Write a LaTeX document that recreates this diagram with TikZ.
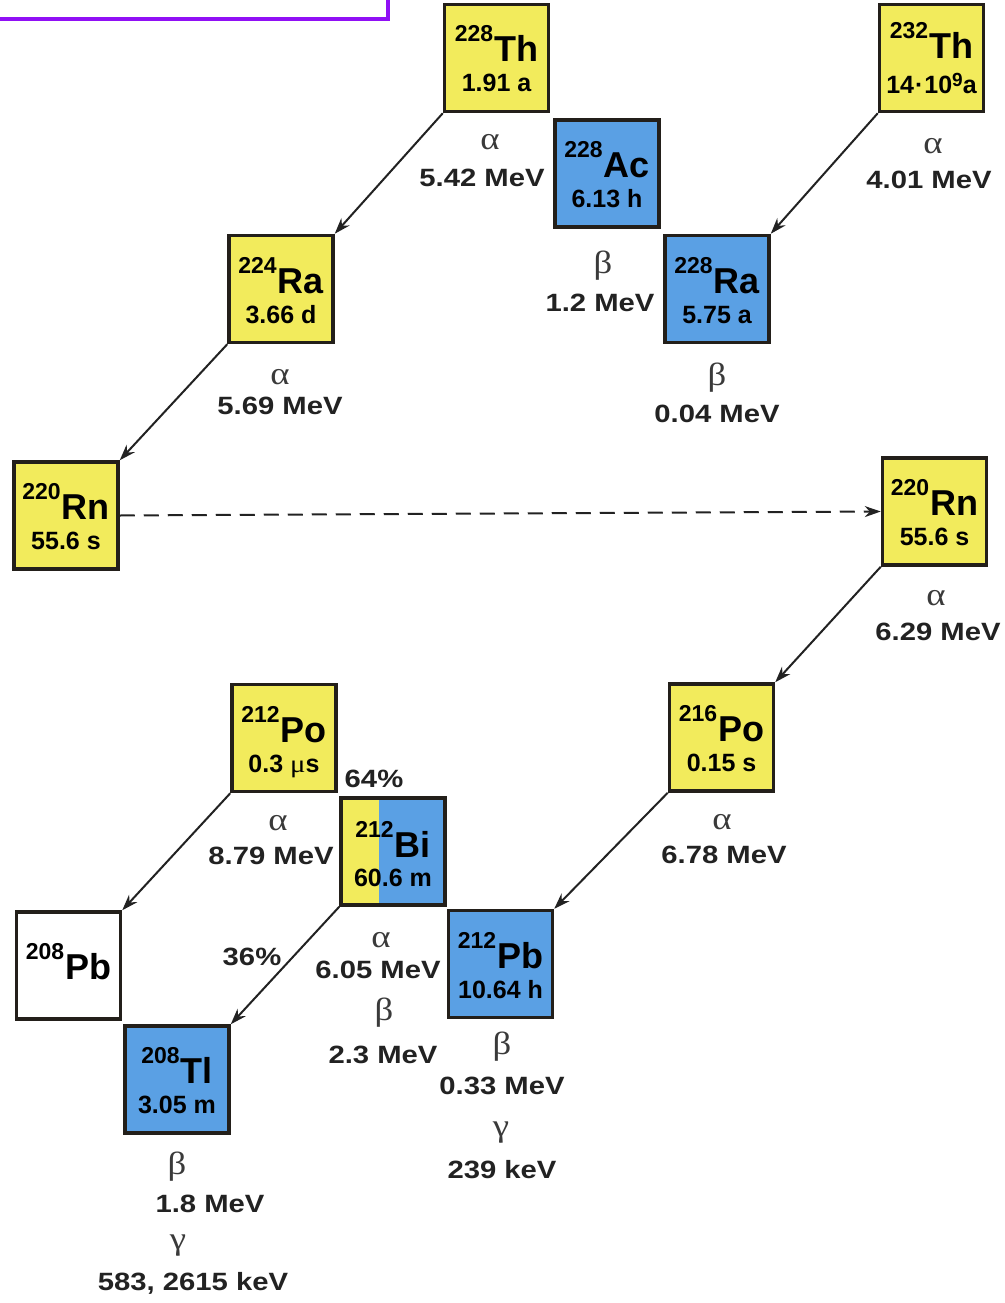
\documentclass[tikz,border=0pt]{standalone}
\usepackage{fontspec}
\setmainfont{Liberation Sans}
\newfontfamily\lab[FakeStretch=1.17]{Liberation Sans}
\newfontfamily\grkf[FakeStretch=1.15]{Liberation Serif}
\usetikzlibrary{arrows.meta}
\definecolor{ycol}{HTML}{F2EB5C}
\definecolor{bcol}{HTML}{5AA0E4}
\definecolor{bord}{HTML}{231F1A}
\definecolor{labcol}{HTML}{222222}
\definecolor{grkcol}{HTML}{3A3A3A}
\definecolor{purp}{HTML}{9010F5}
\newcommand{\nucbox}[6]{%
  \node[nbox, fill=#4] (#1) at (#2,#3) {};
  \node[anchor=base, inner sep=0] (#1-s) at ([yshift=-4pt]#1.center) {#5};
  \node[anchor=base, inner sep=0] (#1-h) at ([yshift=-34pt]#1.center) {#6};
}
\newcommand{\ms}[1]{{\fontsize{23}{25}\selectfont\bfseries\raisebox{20pt}{#1}}\kern1pt}
\newcommand{\sy}[1]{{\fontsize{36}{38}\selectfont\bfseries #1}}
\newcommand{\hl}[1]{{\fontsize{25}{27}\selectfont\bfseries #1}}
\begin{document}
\begin{tikzpicture}[x=1pt,y=-1pt,
  nbox/.style={draw=bord, line width=3.5pt, minimum width=104pt, minimum height=107pt, inner sep=0},
  lbl/.style={font=\lab\bfseries\fontsize{25}{27}\selectfont, inner sep=0, text=labcol},
  grk/.style={font=\grkf\fontsize{32}{32}\selectfont, inner sep=0, text=grkcol},
  arr/.style={draw=labcol, line width=2pt, -{Stealth[length=16pt,width=11pt]}},
  dsh/.style={draw=labcol, line width=2pt, dash pattern=on 15pt off 9pt, -{Stealth[length=16pt,width=11pt]}}]
\fill[white] (0,0) rectangle (1004,1303);
\useasboundingbox (0,0) rectangle (1004,1303);
% title frame (cut off)
\draw[purp, line width=4pt] (-10,-10) rectangle (387.5,19.5);
% nuclide boxes
\nucbox{thA}{496.5}{58}{ycol}{\ms{228}\sy{Th}}{\hl{1.91 a}}
\node[nbox, fill=ycol] (thB) at (931.5,58) {};
\node[anchor=base, inner sep=0] (thB-s) at ([yshift=-1pt]thB.center) {\ms{232}\sy{Th}};
\node[anchor=base, inner sep=0] (thB-h) at ([yshift=-36pt]thB.center) {\hl{14\kern1pt·\kern1pt10}{\fontsize{19}{21}\selectfont\bfseries\raisebox{7pt}{9}}\hl{a}};
\nucbox{ac}{607}{173.5}{bcol}{\ms{228}\sy{Ac}}{\hl{6.13 h}}
\nucbox{raB}{717}{289}{bcol}{\ms{228}\sy{Ra}}{\hl{5.75 a}}
\nucbox{raA}{281}{289}{ycol}{\ms{224}\sy{Ra}}{\hl{3.66 d}}
\nucbox{rnA}{66}{515.5}{ycol}{\ms{220}\sy{Rn}}{\hl{55.6 s}}
\nucbox{rnB}{934.5}{511.5}{ycol}{\ms{220}\sy{Rn}}{\hl{55.6 s}}
\nucbox{poB}{721.5}{737.5}{ycol}{\ms{216}\sy{Po}}{\hl{0.15 s}}
\nucbox{poA}{284}{738}{ycol}{\ms{212}\sy{Po}}{\hl{0.3 {\grkf\mdseries μ}s}}
\node[nbox, fill=bcol, path picture={\fill[ycol] (path picture bounding box.south west) rectangle ([xshift=38pt]path picture bounding box.north west);}] (bi) at (393,851.5) {};
\node[anchor=base, inner sep=0] (bi-s) at ([yshift=-6pt]bi.center) {\ms{212}\sy{Bi}};
\node[anchor=base, inner sep=0] (bi-h) at ([yshift=-35pt]bi.center) {\hl{60.6 m}};
\nucbox{pbA}{500.5}{964}{bcol}{\ms{212}\sy{Pb}}{\hl{10.64 h}}
\node[nbox, fill=white] (pbB) at (68.5,965.5) {};
\node[anchor=base, inner sep=0] (pbB-s) at ([yshift=-14pt]pbB.center) {\ms{208}\sy{Pb}};
\nucbox{tl}{177}{1079.5}{bcol}{\ms{208}\sy{Tl}}{\hl{3.05 m}}
% decay arrows
\draw[arr] (thA.south west) -- (raA.north east);
\draw[arr] (thB.south west) -- (raB.north east);
\draw[arr] (raA.south west) -- (rnA.north east);
\draw[dsh] (rnA.east) -- (rnB.west);
\draw[arr] (rnB.south west) -- (poB.north east);
\draw[arr] (poB.south west) -- (pbA.north east);
\draw[arr] (poA.south west) -- (pbB.north east);
\draw[arr] (bi.south west) -- (tl.north east);
% labels
\node[grk] (g1) at (490,142) {α};
\node[lbl] (l1) at (482,178) {5.42 MeV};
\node[grk] (g2) at (933,146) {α};
\node[lbl] (l2) at (929,180) {4.01 MeV};
\node[grk] (g3) at (603,266) {β};
\node[lbl] (l3) at (600,303) {1.2 MeV};
\node[grk] (g4) at (280,377) {α};
\node[lbl] (l4) at (280,406) {5.69 MeV};
\node[grk] (g5) at (717,378) {β};
\node[lbl] (l5) at (717,414) {0.04 MeV};
\node[grk] (g6) at (936,598) {α};
\node[lbl] (l6) at (938,632) {6.29 MeV};
\node[lbl] (p64) at (374,779) {64\%};
\node[grk] (g7) at (278,823) {α};
\node[lbl] (l7) at (271,856) {8.79 MeV};
\node[grk] (g8) at (722,822) {α};
\node[lbl] (l8) at (724,855) {6.78 MeV};
\node[lbl] (p36) at (252,957) {36\%};
\node[grk] (g9) at (381,940) {α};
\node[lbl] (l9) at (378,970) {6.05 MeV};
\node[grk] (g10) at (384,1013) {β};
\node[lbl] (l10) at (383,1055) {2.3 MeV};
\node[grk] (g11) at (502,1047) {β};
\node[lbl] (l11) at (502,1086) {0.33 MeV};
\node[grk] (g12) at (501,1133) {γ};
\node[lbl] (l12) at (502,1170) {239 keV};
\node[grk] (g13) at (177,1167) {β};
\node[lbl] (l13) at (210,1204) {1.8 MeV};
\node[grk] (g14) at (178,1246) {γ};
\node[lbl] (l14) at (193,1283) {583, 2615 keV};
\end{tikzpicture}
\end{document}
